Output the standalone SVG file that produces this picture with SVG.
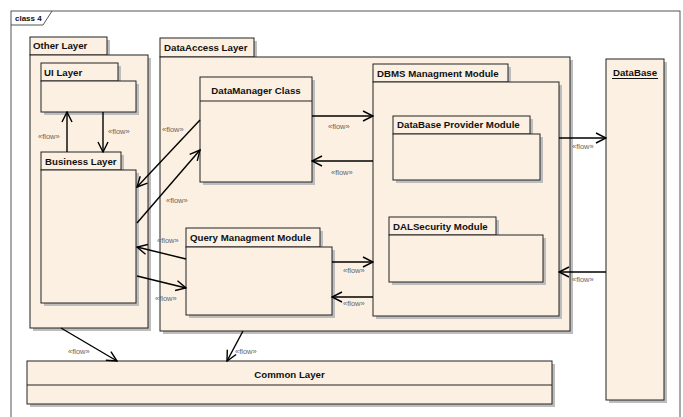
<svg xmlns="http://www.w3.org/2000/svg" width="683" height="417" viewBox="0 0 683 417">
  <style>
    .fill { fill: #FBF0E2; stroke: #222; stroke-width: 1; }
    .shadow { fill: #BDBDBD; stroke: none; }
    .title { font-family: "Liberation Sans", Arial, sans-serif; font-size: 9.7px; font-weight: bold; fill: #111; }
    .flow { font-family: "Liberation Sans", Arial, sans-serif; font-size: 7.5px; fill: #666; }
    .conn { stroke: #000; stroke-width: 1.4; fill: none; marker-end: url(#open); }
  </style>
  <defs>
    <marker id="open" viewBox="0 0 12 12" refX="11" refY="6" markerWidth="12" markerHeight="12" markerUnits="userSpaceOnUse" orient="auto">
      <path d="M1,1 L11,6 L1,11" fill="none" stroke="#000" stroke-width="1.4"/>
    </marker>
  </defs>

  <rect width="683" height="417" fill="#fff"/>

  <!-- diagram frame -->
  <g id="frame">
    <rect x="11" y="11" width="669" height="412" fill="none" stroke="#555" stroke-width="1"/>
    <path d="M11,25 H43 L52,11" fill="none" stroke="#555" stroke-width="1"/>
    <text x="15" y="21" font-family="Liberation Sans, Arial, sans-serif" font-size="8px" font-weight="bold" fill="#111">class 4</text>
  </g>

  <!-- Other Layer package -->
  <g id="other-layer">
    <rect class="shadow" x="33" y="40" width="77" height="18"/>
    <rect class="shadow" x="33" y="58" width="118" height="273"/>
    <rect class="fill" x="30" y="37" width="77" height="18"/>
    <rect class="fill" x="30" y="55" width="118" height="273"/>
    <text class="title" x="33" y="49">Other Layer</text>
  </g>

  <g id="ui-layer">
    <rect class="shadow" x="44" y="66" width="77" height="18"/>
    <rect class="shadow" x="44" y="84" width="95" height="31"/>
    <rect class="fill" x="41" y="63" width="77" height="18"/>
    <rect class="fill" x="41" y="81" width="95" height="31"/>
    <text class="title" x="44" y="76">UI Layer</text>
  </g>

  <g id="business-layer">
    <rect class="shadow" x="44" y="155" width="80" height="18"/>
    <rect class="shadow" x="44" y="173" width="95" height="133"/>
    <rect class="fill" x="41" y="152" width="80" height="18"/>
    <rect class="fill" x="41" y="170" width="95" height="133"/>
    <text class="title" x="45" y="165">Business Layer</text>
  </g>

  <!-- DataAccess Layer package -->
  <g id="dataaccess-layer">
    <rect class="shadow" x="163" y="41" width="94" height="19"/>
    <rect class="shadow" x="163" y="60" width="410" height="274"/>
    <rect class="fill" x="160" y="38" width="94" height="19"/>
    <rect class="fill" x="160" y="57" width="410" height="274"/>
    <text class="title" x="164" y="51">DataAccess Layer</text>
  </g>

  <g id="datamanager-class">
    <rect class="shadow" x="203" y="80" width="112" height="105"/>
    <rect class="fill" x="200" y="77" width="112" height="105"/>
    <line x1="200" y1="101" x2="312" y2="101" stroke="#222" stroke-width="1"/>
    <text class="title" x="256" y="94" text-anchor="middle">DataManager Class</text>
  </g>

  <g id="dbms-module">
    <rect class="shadow" x="376" y="67" width="135" height="18"/>
    <rect class="shadow" x="376" y="85" width="186" height="234"/>
    <rect class="fill" x="373" y="64" width="135" height="18"/>
    <rect class="fill" x="373" y="82" width="186" height="234"/>
    <text class="title" x="377" y="77">DBMS Managment Module</text>
  </g>

  <g id="dbprovider-module">
    <rect class="shadow" x="396" y="119" width="137" height="18"/>
    <rect class="shadow" x="396" y="137" width="147" height="46"/>
    <rect class="fill" x="393" y="116" width="137" height="18"/>
    <rect class="fill" x="393" y="134" width="147" height="46"/>
    <text class="title" x="397" y="128">DataBase Provider Module</text>
  </g>

  <g id="dalsecurity-module">
    <rect class="shadow" x="392" y="220" width="107" height="18"/>
    <rect class="shadow" x="392" y="238" width="154" height="47"/>
    <rect class="fill" x="389" y="217" width="107" height="18"/>
    <rect class="fill" x="389" y="235" width="154" height="47"/>
    <text class="title" x="393" y="230">DALSecurity Module</text>
  </g>

  <g id="query-module">
    <rect class="shadow" x="189" y="231" width="134" height="19"/>
    <rect class="shadow" x="189" y="250" width="146" height="68"/>
    <rect class="fill" x="186" y="228" width="134" height="19"/>
    <rect class="fill" x="186" y="247" width="146" height="68"/>
    <text class="title" x="190" y="241">Query Managment Module</text>
  </g>

  <g id="database">
    <rect class="shadow" x="609" y="62" width="58" height="341"/>
    <rect class="fill" x="606" y="59" width="58" height="341"/>
    <text class="title" x="635" y="76" text-anchor="middle">DataBase</text>
    <line x1="612" y1="78.5" x2="658" y2="78.5" stroke="#111" stroke-width="1"/>
  </g>

  <g id="common-layer">
    <rect class="shadow" x="30" y="364" width="525" height="43"/>
    <rect class="fill" x="27" y="361" width="525" height="43"/>
    <line x1="27" y1="385" x2="552" y2="385" stroke="#222" stroke-width="1"/>
    <text class="title" x="289.5" y="378" text-anchor="middle">Common Layer</text>
  </g>

  <!-- flow connectors -->
  <g id="connectors">
    <line class="conn" x1="67" y1="152" x2="67" y2="112"/>
    <line class="conn" x1="103" y1="112" x2="103" y2="152"/>
    <line class="conn" x1="312" y1="116" x2="373" y2="116"/>
    <line class="conn" x1="373" y1="161" x2="312" y2="161"/>
    <line class="conn" x1="200" y1="120" x2="137" y2="187"/>
    <line class="conn" x1="137" y1="223" x2="200" y2="150"/>
    <line class="conn" x1="186" y1="259" x2="137" y2="247"/>
    <line class="conn" x1="137" y1="276" x2="186" y2="288"/>
    <line class="conn" x1="332" y1="262" x2="373" y2="262"/>
    <line class="conn" x1="373" y1="297" x2="332" y2="297"/>
    <line class="conn" x1="559" y1="138" x2="606" y2="138"/>
    <line class="conn" x1="606" y1="272" x2="559" y2="272"/>
    <line class="conn" x1="61" y1="328" x2="117" y2="361"/>
    <line class="conn" x1="243" y1="331" x2="227" y2="361"/>

    <text class="flow" x="38" y="139">«flow»</text>
    <text class="flow" x="108" y="134">«flow»</text>
    <text class="flow" x="328" y="129">«flow»</text>
    <text class="flow" x="331" y="175">«flow»</text>
    <text class="flow" x="162" y="132">«flow»</text>
    <text class="flow" x="166" y="203">«flow»</text>
    <text class="flow" x="157" y="243">«flow»</text>
    <text class="flow" x="155" y="301">«flow»</text>
    <text class="flow" x="343" y="273">«flow»</text>
    <text class="flow" x="343" y="306">«flow»</text>
    <text class="flow" x="572" y="149">«flow»</text>
    <text class="flow" x="572" y="282">«flow»</text>
    <text class="flow" x="68" y="354">«flow»</text>
    <text class="flow" x="235" y="354">«flow»</text>
  </g>
</svg>
